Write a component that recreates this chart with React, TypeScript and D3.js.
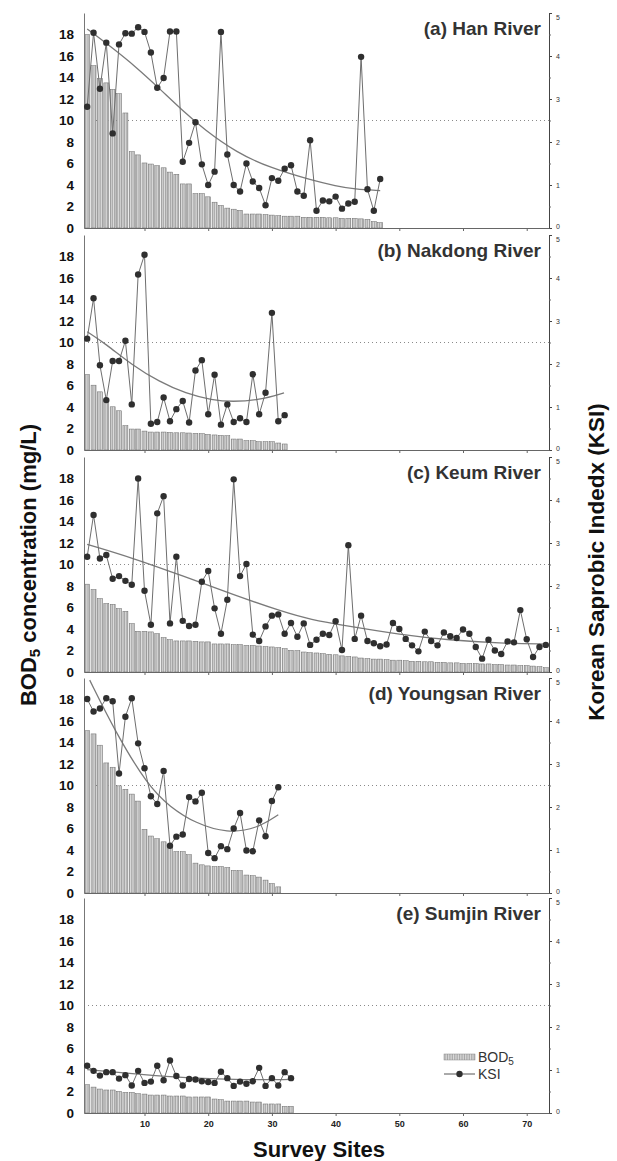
import React, { useRef, useEffect } from "react";
import * as d3 from "d3";

// ---- data ----
const riverNames = [
  "(a) Han River",
  "(b) Nakdong River",
  "(c) Keum River",
  "(d) Youngsan River",
  "(e) Sumjin River",
];

const hanBod = [
  18.0, 15.1, 13.9, 13.5, 12.9, 12.5, 10.7, 7.1, 6.8, 6.05, 5.95, 5.8, 5.6, 5.2,
  5.0, 4.1, 4.1, 3.2, 3.2, 2.9, 2.4, 2.1, 1.85, 1.75, 1.65, 1.3, 1.3, 1.3, 1.25,
  1.2, 1.15, 1.1, 1.1, 1.1, 1.0, 1.0, 1.0, 1.0, 0.95, 0.95, 0.9, 0.9, 0.9, 0.85,
  0.8, 0.6, 0.5,
];
const hanKsi = [
  2.82, 4.54, 3.24, 4.31, 2.2, 4.27, 4.53, 4.52, 4.67, 4.56, 4.08, 3.26, 3.49,
  4.57, 4.57, 1.54, 1.98, 2.46, 1.48, 1.0, 1.31, 4.56, 1.71, 1.0, 0.85, 1.5,
  1.08, 0.93, 0.53, 1.16, 1.1, 1.38, 1.46, 0.85, 0.75, 2.04, 0.4, 0.64, 0.62,
  0.73, 0.45, 0.57, 0.61, 3.98, 0.9, 0.4, 1.14,
];
const hanTrend = [
  [1, 4.63], [4.6, 4.23], [8.8, 3.73], [12.5, 3.22], [16.2, 2.7], [19.3, 2.3],
  [24.5, 1.75], [29.7, 1.4], [36.5, 1.1], [40, 0.98], [43, 0.9], [47, 0.87],
];

const nakdongBod = [
  7.02, 6.03, 5.41, 4.64, 4.02, 3.65, 2.26, 1.95, 1.95, 1.76, 1.67, 1.67, 1.67,
  1.64, 1.6, 1.6, 1.58, 1.55, 1.52, 1.45, 1.4, 1.36, 1.33, 1.02, 1.02, 0.87,
  0.87, 0.77, 0.77, 0.77, 0.65, 0.56,
];
const nakdongKsi = [
  2.59, 3.53, 1.97, 1.16, 2.07, 2.07, 2.54, 1.06, 4.08, 4.54, 0.61, 0.65, 1.22,
  0.67, 0.95, 1.14, 0.64, 1.85, 2.09, 0.83, 1.75, 0.59, 1.06, 0.65, 0.74, 0.65,
  1.76, 0.83, 1.33, 3.19, 0.67, 0.81,
];
const nakdongTrend = [
  [1, 2.75], [3.9, 2.47], [8.1, 1.97], [12.3, 1.59], [16.5, 1.31], [20.6, 1.16],
  [23.8, 1.12], [28, 1.16], [31.9, 1.33],
];

const keumBod = [
  8.17, 7.67, 6.83, 6.37, 6.3, 5.9, 5.65, 4.5, 3.79, 3.79, 3.73, 3.57, 3.2, 3.01,
  2.89, 2.89, 2.89, 2.86, 2.8, 2.8, 2.61, 2.61, 2.61, 2.55, 2.55, 2.48, 2.48,
  2.42, 2.36, 2.33, 2.27, 2.17, 2.02, 1.99, 1.86, 1.8, 1.77, 1.71, 1.65, 1.6,
  1.5, 1.45, 1.4, 1.3, 1.25, 1.2, 1.2, 1.15, 1.1, 1.1, 1.05, 1.0, 1.0, 0.95,
  0.95, 0.9, 0.9, 0.85, 0.85, 0.8, 0.8, 0.8, 0.75, 0.75, 0.7, 0.7, 0.65, 0.65,
  0.6, 0.6, 0.55, 0.5, 0.4,
];
const keumKsi = [
  2.68, 3.65, 2.64, 2.72, 2.17, 2.23, 2.12, 2.03, 4.5, 1.89, 1.1, 3.69, 4.09,
  1.13, 2.68, 1.19, 1.07, 1.1, 2.1, 2.35, 1.48, 0.89, 1.68, 4.48, 2.23, 2.51,
  0.87, 0.72, 1.06, 1.31, 1.34, 0.89, 1.14, 0.82, 1.13, 0.63, 0.75, 0.89, 0.86,
  1.18, 0.51, 2.95, 0.77, 1.31, 0.72, 0.67, 0.6, 0.64, 1.14, 1.0, 0.77, 0.62,
  0.48, 0.94, 0.72, 0.62, 0.92, 0.83, 0.79, 0.99, 0.89, 0.58, 0.31, 0.75, 0.5,
  0.42, 0.71, 0.69, 1.44, 0.76, 0.35, 0.58, 0.63,
];
const keumTrend = [
  [1, 2.97], [8.2, 2.65], [16.1, 2.23], [23.9, 1.8], [31.7, 1.4], [36, 1.22],
  [41.9, 1.07], [50.1, 0.87], [57.9, 0.74], [65.8, 0.67], [73, 0.65],
];

const youngsanBod = [
  15.1, 14.8, 13.75, 12.1, 11.7, 9.97, 9.65, 9.2, 8.55, 5.93, 5.3, 5.05, 4.76,
  4.45, 3.85, 3.85, 3.56, 2.78, 2.62, 2.52, 2.46, 2.46, 2.37, 2.11, 2.08, 1.67,
  1.61, 1.48, 1.2, 0.88, 0.57,
];
const youngsanKsi = [
  4.51, 4.22, 4.29, 4.53, 4.46, 2.78, 4.1, 4.53, 3.48, 2.9, 2.25, 2.07, 2.84,
  1.1, 1.31, 1.36, 2.23, 2.13, 2.33, 0.93, 0.81, 1.09, 1.02, 1.5, 1.86, 0.99,
  0.97, 1.69, 1.32, 2.14, 2.46,
];
const youngsanTrend = [
  [1.4, 4.95], [5.4, 3.75], [10.5, 2.5], [14, 2.0], [18, 1.62], [23, 1.39],
  [27.7, 1.5], [31, 1.82],
];

const sumjinBod = [
  2.63, 2.41, 2.23, 2.14, 2.14, 2.01, 1.92, 1.92, 1.8, 1.76, 1.67, 1.67, 1.67,
  1.58, 1.58, 1.58, 1.49, 1.49, 1.49, 1.49, 1.3, 1.24, 1.11, 1.11, 1.11, 1.11,
  1.02, 1.02, 0.84, 0.84, 0.84, 0.62, 0.62,
];
const sumjinKsi = [
  1.1, 0.98, 0.87, 0.95, 0.95, 0.8, 0.88, 0.64, 0.98, 0.7, 0.73, 1.1, 0.76,
  1.22, 0.86, 0.64, 0.79, 0.78, 0.74, 0.72, 0.7, 0.96, 0.81, 0.63, 0.73, 0.68,
  0.74, 1.05, 0.63, 0.81, 0.64, 0.95, 0.81,
];
const sumjinTrend = [[1, 1.01], [9, 0.9], [17, 0.81], [26, 0.77], [33, 0.78]];

const bodTicks = [0, 2, 4, 6, 8, 10, 12, 14, 16, 18];
const ksiTicks = [0, 1, 2, 3, 4, 5];
const ksiMinorTicks = [0.5, 1.5, 2.5, 3.5, 4.5];
const siteTicks = [10, 20, 30, 40, 50, 60, 70];

const rivers = [
  { name: riverNames[0], bod: hanBod, ksi: hanKsi, trend: hanTrend },
  { name: riverNames[1], bod: nakdongBod, ksi: nakdongKsi, trend: nakdongTrend },
  { name: riverNames[2], bod: keumBod, ksi: keumKsi, trend: keumTrend },
  { name: riverNames[3], bod: youngsanBod, ksi: youngsanKsi, trend: youngsanTrend },
  { name: riverNames[4], bod: sumjinBod, ksi: sumjinKsi, trend: sumjinTrend },
];

const W = 617;
const H = 1161;
const left = 84;
const right = 549;
const panelBase = [228, 450, 672, 893, 1113];
const panelH = 215;
const FONT = "'Liberation Sans', Arial, Helvetica, sans-serif";

function drawChart(el: SVGSVGElement) {
  const svg = d3.select(el);
  svg.selectAll("*").remove();
  svg.attr("font-family", FONT);

  const defs = svg.append("defs");
  const pat = defs
    .append("pattern")
    .attr("id", "hatch")
    .attr("patternUnits", "userSpaceOnUse")
    .attr("width", 1.7)
    .attr("height", 4);
  pat.append("rect").attr("width", 1.7).attr("height", 4).attr("fill", "#dcdcdc");
  pat.append("rect").attr("width", 0.6).attr("height", 4).attr("fill", "#909090");

  const x = d3.scaleLinear().domain([0.5, 73.5]).range([left, right]);
  const barW = (x(1) - x(0)) * 0.78;

  rivers.forEach((r, i) => {
    const base = panelBase[i];
    const top = base - panelH;
    const yL = d3.scaleLinear().domain([0, 20]).range([base, top]);
    const yR = d3.scaleLinear().domain([0, 5]).range([base, top]);
    const g = svg.append("g");

    defs
      .append("clipPath")
      .attr("id", `clip${i}`)
      .append("rect")
      .attr("x", left)
      .attr("y", top)
      .attr("width", right - left)
      .attr("height", panelH);

    // dotted reference at BOD 10 / KSI 2.5
    g.append("line")
      .attr("x1", left)
      .attr("x2", right)
      .attr("y1", yL(10))
      .attr("y2", yL(10))
      .attr("stroke", "#8a8a8a")
      .attr("stroke-width", 1)
      .attr("stroke-dasharray", "1,3");

    // BOD bars
    g.append("g")
      .selectAll("rect")
      .data(r.bod)
      .join("rect")
      .attr("x", (d, j) => x(j + 1) - barW / 2)
      .attr("y", (d) => yL(d))
      .attr("width", barW)
      .attr("height", (d) => base - yL(d))
      .attr("fill", "url(#hatch)")
      .attr("stroke", "#6a6a6a")
      .attr("stroke-width", 0.5);

    // left axis
    const ga = g
      .append("g")
      .attr("transform", `translate(${left},0)`)
      .call(d3.axisLeft(yL).tickValues(bodTicks).tickSize(0).tickPadding(10));
    ga.select(".domain").attr("stroke", "#777");
    ga.selectAll("text")
      .attr("font-family", FONT)
      .attr("font-size", 13.5)
      .attr("font-weight", "bold")
      .attr("fill", "#111");

    // right axis
    const gr = g
      .append("g")
      .attr("transform", `translate(${right},0)`)
      .call(
        d3
          .axisRight(yR)
          .tickValues(ksiTicks)
          .tickSize(3)
          .tickSizeOuter(0)
          .tickPadding(4)
          .tickFormat(d3.format("d"))
      );
    gr.select(".domain").attr("stroke", "#444");
    gr.selectAll("line").attr("stroke", "#444");
    gr.selectAll("text")
      .attr("font-family", FONT)
      .attr("font-size", 7)
      .attr("fill", "#333")
      .attr("dy", (d) => (d === 5 ? "0.9em" : d === 0 ? "0.1em" : "0.32em"));
    const gm = g
      .append("g")
      .attr("transform", `translate(${right},0)`)
      .call(d3.axisRight(yR).tickValues(ksiMinorTicks).tickSize(2).tickFormat(() => ""));
    gm.select(".domain").remove();
    gm.selectAll("line").attr("stroke", "#666");

    // bottom axis
    const gb = g
      .append("g")
      .attr("transform", `translate(0,${base})`)
      .call(
        d3
          .axisBottom(x)
          .tickValues(siteTicks)
          .tickSize(3)
          .tickSizeOuter(0)
          .tickPadding(5)
          .tickFormat((d) => (i === rivers.length - 1 ? String(d) : ""))
      );
    gb.select(".domain").attr("stroke", "#666");
    gb.selectAll("line").attr("stroke", "#666");
    gb.selectAll("text")
      .attr("font-family", FONT)
      .attr("font-size", 9)
      .attr("font-weight", "bold")
      .attr("fill", "#222");

    // trend curve
    g.append("path")
      .datum(r.trend)
      .attr("clip-path", `url(#clip${i})`)
      .attr("fill", "none")
      .attr("stroke", "#7a7a7a")
      .attr("stroke-width", 1.3)
      .attr(
        "d",
        d3
          .line<number[]>()
          .curve(d3.curveBasis)
          .x((d) => x(d[0]))
          .y((d) => yR(d[1]))
      );

    // KSI line + dots
    g.append("path")
      .datum(r.ksi)
      .attr("fill", "none")
      .attr("stroke", "#6e6e6e")
      .attr("stroke-width", 1)
      .attr(
        "d",
        d3
          .line<number>()
          .x((d, j) => x(j + 1))
          .y((d) => yR(d))
      );
    g.append("g")
      .selectAll("circle")
      .data(r.ksi)
      .join("circle")
      .attr("cx", (d, j) => x(j + 1))
      .attr("cy", (d) => yR(d))
      .attr("r", 3.2)
      .attr("fill", "#2f2f2f");

    // panel title
    g.append("text")
      .attr("x", right - 8)
      .attr("y", top + 22)
      .attr("text-anchor", "end")
      .attr("font-size", 19)
      .attr("font-weight", "bold")
      .attr("fill", "#333")
      .text(r.name);
  });

  // legend (in panel e)
  const lg = svg.append("g");
  lg.append("rect")
    .attr("x", 444)
    .attr("y", 1054)
    .attr("width", 31)
    .attr("height", 6)
    .attr("fill", "url(#hatch)")
    .attr("stroke", "#888")
    .attr("stroke-width", 0.5);
  const bt = lg
    .append("text")
    .attr("x", 478)
    .attr("y", 1062)
    .attr("font-size", 14)
    .attr("fill", "#333");
  bt.append("tspan").text("BOD");
  bt.append("tspan").attr("font-size", 10).attr("dy", 3).text("5");
  lg.append("line")
    .attr("x1", 444)
    .attr("x2", 475)
    .attr("y1", 1074)
    .attr("y2", 1074)
    .attr("stroke", "#555");
  lg.append("circle").attr("cx", 459.5).attr("cy", 1074).attr("r", 3.2).attr("fill", "#2f2f2f");
  lg.append("text")
    .attr("x", 478)
    .attr("y", 1079)
    .attr("font-size", 14)
    .attr("fill", "#333")
    .text("KSI");

  // axis titles
  const yt = svg
    .append("text")
    .attr("transform", "translate(36,565) rotate(-90)")
    .attr("text-anchor", "middle")
    .attr("font-size", 22)
    .attr("font-weight", "bold")
    .attr("fill", "#111");
  yt.append("tspan").text("BOD");
  yt.append("tspan").attr("font-size", 15).attr("dy", 4).text("5");
  yt.append("tspan").attr("dy", -4).text(" concentration (mg/L)");

  svg
    .append("text")
    .attr("transform", "translate(604,562) rotate(-90)")
    .attr("text-anchor", "middle")
    .attr("font-size", 22.5)
    .attr("font-weight", "bold")
    .attr("fill", "#111")
    .text("Korean Saprobic Indedx (KSI)");

  svg
    .append("text")
    .attr("x", 319)
    .attr("y", 1157)
    .attr("text-anchor", "middle")
    .attr("font-size", 22)
    .attr("font-weight", "bold")
    .attr("fill", "#111")
    .text("Survey Sites");
}

export default function App() {
  const ref = useRef<SVGSVGElement>(null);
  useEffect(() => {
    if (ref.current) drawChart(ref.current);
  }, []);
  return (
    <svg
      ref={ref}
      width={W}
      height={H}
      viewBox={`0 0 ${W} ${H}`}
      style={{ position: "absolute", left: 0, top: 0, background: "#fff" }}
    />
  );
}
